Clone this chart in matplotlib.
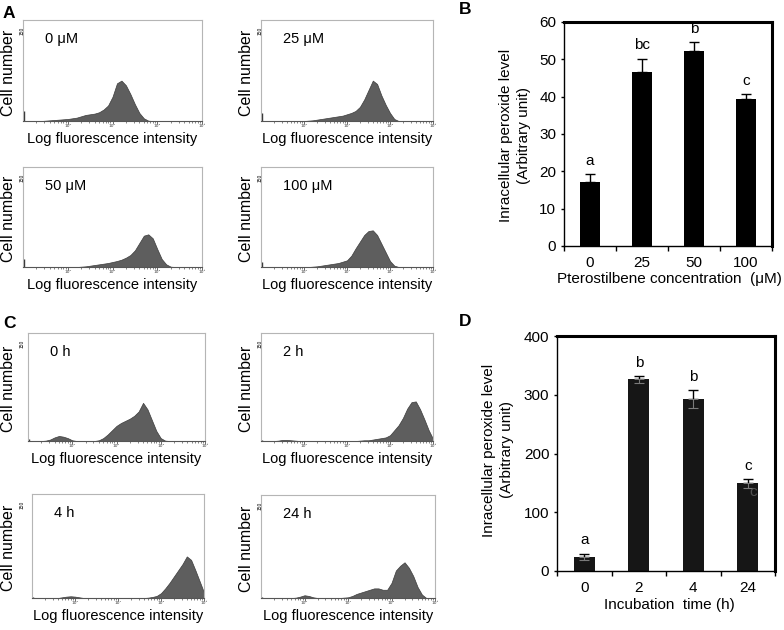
import numpy as np
import matplotlib
matplotlib.use('Agg')
import matplotlib.pyplot as plt

plt.rcParams['font.family'] = ['Liberation Sans', 'DejaVu Sans']

# ---------------- data ----------------
LOG_GRID = np.round(np.arange(-1.0, 3.001, 0.1), 1)   # log10 fluorescence positions

hist_labels = ['0 μM', '25 μM', '50 μM', '100 μM', '0 h', '2 h', '4 h', '24 h']

counts_A0 = [0, 0, 0, 0, 0, 0.5, 1, 1.5, 2, 2.5, 3, 4, 5, 7, 9, 10, 11, 13, 17, 23,
             36, 56, 60, 53, 40, 25, 12, 4, 0.5, 0, 0, 0, 0, 0, 0, 0, 0, 0, 0, 0, 0]
counts_A25 = [0, 0, 0, 0, 0, 0, 0, 0, 0, 0, 0, 0.5, 1, 2, 3, 4, 5, 6, 7, 8,
              10, 12, 15, 21, 32, 46, 60, 55, 38, 24, 12, 3, 0, 0, 0, 0, 0, 0, 0, 0, 0]
counts_A50 = [0, 0, 0, 0, 0, 0, 0, 0, 0, 0, 0, 0, 0, 0.5, 1, 2, 3, 4, 5, 6,
              7.5, 9, 11, 14, 18, 25, 36, 47, 49, 43, 27, 12, 4, 0.5, 0, 0, 0, 0, 0, 0, 0]
counts_A100 = [0, 0, 0, 0, 0, 0, 0, 0, 0, 0, 0, 0, 0.5, 1, 2, 3, 4, 5, 6, 8,
               10, 17, 28, 38, 48, 54, 55, 48, 35, 22, 9, 2, 0, 0, 0, 0, 0, 0, 0, 0, 0]
counts_C0 = [0, 0, 0, 0, 0.5, 2, 5, 7, 6, 4, 1, 0, 0, 0, 0, 0, 1, 4, 9, 15,
             21, 25, 28, 31, 35, 41, 53, 44, 29, 14, 4, 0.5, 0, 0, 0, 0, 0, 0, 0, 0, 0]
counts_C2 = [0, 0, 0, 0, 0.5, 1.5, 1.5, 1, 0.5, 0, 0, 0, 0, 0, 0, 0, 0, 0, 0, 0,
             0, 0, 0, 0.5, 1, 1, 2, 3, 4, 5, 8, 15, 22, 32, 45, 54, 55, 44, 30, 15, 3]
counts_C4 = [0, 0, 0, 0, 0, 0, 0, 1, 2, 2.5, 2, 1, 0, 0, 0, 0, 0, 0, 0, 0,
             0, 0, 0, 0, 0, 0, 0, 0.5, 1.5, 3, 7, 14, 22, 31, 40, 49, 60, 55, 40, 24, 8]
counts_C24 = [0, 0, 0, 0, 0, 0, 0, 0, 0.5, 2, 4, 3, 1, 0, 0, 0, 0, 0, 0, 0.5,
              1, 3, 6, 8, 10, 12, 14, 14, 12, 12, 22, 40, 47, 52, 44, 32, 16, 5, 0, 0, 0]
edge_spikes = [15, 12, 12, 7, 3, 2, 2, 2]

conc_labels = ['0', '25', '50', '100']
peroxide_conc = [17.2, 46.5, 52.2, 39.4]
peroxide_conc_err = [2.1, 3.7, 2.5, 1.3]
letters_conc = ['a', 'bc', 'b', 'c']

time_labels = ['0', '2', '4', '24']
peroxide_time = [24, 326, 293, 149]
peroxide_time_err = [5.5, 6, 15, 8]
letters_time = ['a', 'b', 'b', 'c']

# ---------------- layout ----------------
W, H = 784, 630
fig = plt.figure(figsize=(W / 100, H / 100), dpi=100)


def box(x0, y0, x1, y1):
    return [x0 / W, 1 - y1 / H, (x1 - x0) / W, (y1 - y0) / H]


def fx(px):
    return px / W


def fy(py):
    return 1 - py / H


hist_boxes = [(23, 20, 202, 121), (261, 20, 433, 121),
              (23, 167, 202, 267), (261, 167, 433, 267),
              (28, 333, 205, 441), (261, 333, 433, 441),
              (32, 494, 204, 598), (261, 495, 435, 598)]
all_counts = [counts_A0, counts_A25, counts_A50, counts_A100,
              counts_C0, counts_C2, counts_C4, counts_C24]

minor_pos = [d + np.log10(k) for d in range(-1, 3) for k in range(2, 10)]

for i, (b, cnt) in enumerate(zip(hist_boxes, all_counts)):
    x0, y0, x1, y1 = b
    ax = fig.add_axes(box(*b))
    ax.fill_between(LOG_GRID, cnt, color='#5e5e5e', edgecolor='#3c3c3c', lw=0.5)
    ax.vlines(-0.985, 0, edge_spikes[i], color='#333333', lw=1.0)
    ax.set_xlim(-1, 3)
    ax.set_ylim(0, 150)
    ax.set_yticks([])
    ax.set_xticks([0, 1, 2, 3])
    ax.set_xticklabels(['10⁰', '10¹', '10²', '10³'], fontsize=3.2, color='#444444',
                       family=['DejaVu Sans'])
    ax.set_xticks(minor_pos, minor=True)
    ax.tick_params(axis='x', which='major', length=2, width=0.6, pad=0.3, color='#555555')
    ax.tick_params(axis='x', which='minor', length=1.2, width=0.5, color='#555555')
    for s in ['top', 'left', 'right']:
        ax.spines[s].set_color('#b5b5b5')
        ax.spines[s].set_linewidth(0.8)
    ax.spines['bottom'].set_color('#555555')
    ax.spines['bottom'].set_linewidth(0.8)
    ax.text(fx(x0 + 22), fy(y0 + 19), hist_labels[i], transform=fig.transFigure,
            fontsize=10.5, ha='left', va='center')
    fig.text(fx((x0 + x1) / 2), fy(y1 + 18), 'Log fluorescence intensity',
             fontsize=10.5, ha='center', va='center')
    lx = 9 if x0 < 100 else 247
    fig.text(fx(lx), fy((y0 + y1) / 2 + 2), 'Cell number', rotation=90,
             fontsize=11.5, ha='center', va='center')
    fig.text(fx(lx + 13), fy(y0 + 11), '150', rotation=90, fontsize=3.5,
             ha='center', va='center')


def bar_panel(b, labels, vals, errs, letters, ymax, ystep, color, lower_err_color=None):
    ax = fig.add_axes(box(*b))
    x = np.arange(len(vals))
    ax.bar(x, vals, width=0.39, color=color, zorder=2)
    zeros = [0] * len(vals)
    ax.errorbar(x, vals, yerr=[zeros, errs], fmt='none', ecolor='black',
                elinewidth=1.0, capsize=3.5, capthick=1.0, zorder=3)
    if lower_err_color is not None:
        ax.errorbar(x, vals, yerr=[errs, zeros], fmt='none', ecolor=lower_err_color,
                    elinewidth=0.8, capsize=3.5, capthick=0.8, zorder=3)
    for xi, v, e, t in zip(x, vals, errs, letters):
        ax.annotate(t, (xi, v + e), xytext=(0, 4.5), textcoords='offset points',
                    ha='center', va='bottom', fontsize=11)
    ax.set_xlim(-0.5, len(vals) - 0.5)
    ax.set_ylim(0, ymax)
    ax.set_yticks(np.arange(0, ymax + 1, ystep))
    ax.set_xticks(x)
    ax.set_xticklabels(labels)
    ax.set_xticks(np.arange(-0.5, len(vals), 1.0), minor=True)
    ax.tick_params(axis='x', which='major', length=0, pad=7, labelsize=11)
    ax.tick_params(axis='x', which='minor', length=3.5, width=1.0, direction='out')
    ax.tick_params(axis='y', length=2.5, width=1.0, pad=3, labelsize=11)
    ax.spines['top'].set_linewidth(2.2)
    ax.spines['right'].set_linewidth(2.2)
    ax.spines['left'].set_linewidth(1.0)
    ax.spines['bottom'].set_linewidth(1.0)
    return ax


bar_panel((564, 22, 772, 246), conc_labels, peroxide_conc, peroxide_conc_err,
          letters_conc, 60, 10, 'black')
fig.text(fx(515), fy(135), 'Inracellular peroxide level\n(Arbitrary unit)', rotation=90,
         fontsize=11, ha='center', va='center', linespacing=1.45, multialignment='center')
fig.text(fx(669), fy(279), 'Pterostilbene concentration  (μM)', fontsize=11,
         ha='center', va='center')

axD = bar_panel((557, 336, 775, 571), time_labels, peroxide_time, peroxide_time_err,
                letters_time, 400, 100, '#161616', lower_err_color='#7a7a7a')
axD.text(3.1, peroxide_time[3] - 15, 'c', color='#505050', fontsize=11,
         ha='center', va='center', zorder=4)
fig.text(fx(498), fy(450), 'Inracellular peroxide level\n(Arbitrary unit)', rotation=90,
         fontsize=11, ha='center', va='center', linespacing=1.45, multialignment='center')
fig.text(fx(669), fy(605), 'Incubation  time (h)', fontsize=11, ha='center', va='center')

# panel letters
for t, (px, py) in zip('ABCD', [(9, 14), (465, 9), (9, 323), (465, 321)]):
    fig.text(fx(px), fy(py), t, fontsize=12.5, fontweight='bold', ha='center', va='center')

fig.savefig('out.png', dpi=100)
